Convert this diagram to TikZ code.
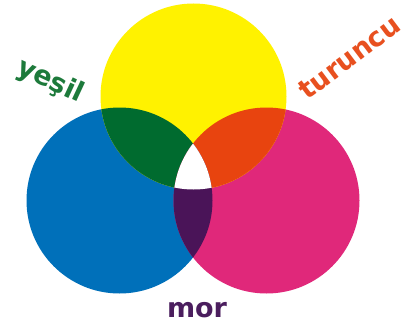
\documentclass[tikz,border=0pt]{standalone}
\usepackage{fontspec}
\setmainfont{DejaVu Sans}
\begin{document}
\begin{tikzpicture}[x=1pt,y=-1pt,
  lbl/.style={font=\fontsize{27}{30}\selectfont\bfseries, anchor=base, inner sep=0pt}]
\definecolor{cyel}{HTML}{FFF200}
\definecolor{cblue}{HTML}{0070BA}
\definecolor{cmag}{HTML}{E0287A}
\definecolor{cgreen}{HTML}{006B2F}
\definecolor{corange}{HTML}{E8440F}
\definecolor{cpurple}{HTML}{4A1458}
\definecolor{tgreen}{HTML}{1D7A3B}
\definecolor{torange}{HTML}{E8501F}
\definecolor{tpurple}{HTML}{4B1E5E}
\useasboundingbox (0,0) rectangle (401,329);
\fill[white] (0,0) rectangle (401,329);
\coordinate (Y) at (193.5,96.5);
\coordinate (B) at (119.5,200.5);
\coordinate (M) at (266.5,200.5);
\def\R{93pt}
\fill[cblue] (B) circle[radius=\R];
\fill[cmag] (M) circle[radius=\R];
\fill[cyel] (Y) circle[radius=\R];
\begin{scope}
  \clip (Y) circle[radius=\R];
  \fill[cgreen] (B) circle[radius=\R];
  \fill[corange] (M) circle[radius=\R];
\end{scope}
\begin{scope}
  \clip (B) circle[radius=\R];
  \fill[cpurple] (M) circle[radius=\R];
\end{scope}
\begin{scope}
  \clip (Y) circle[radius=\R];
  \clip (B) circle[radius=\R];
  \fill[white] (M) circle[radius=\R];
\end{scope}
\node[lbl, text=tgreen, rotate=-25] (yesil) at (47,88) {yeşil};
\node[lbl, text=torange, rotate=37] (turuncu) at (355,65) {turuncu};
\node[lbl, text=tpurple] (mor) at (197,317) {mor};
\end{tikzpicture}
\end{document}
